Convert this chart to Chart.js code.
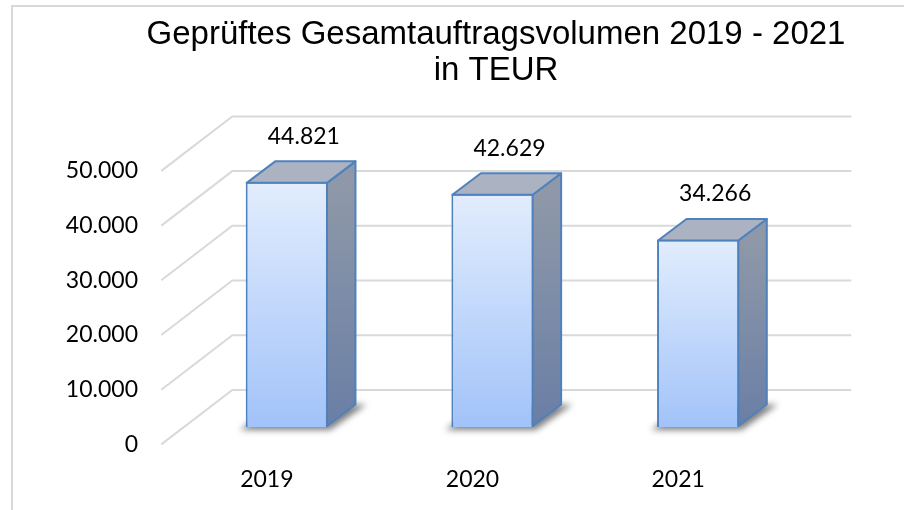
<!DOCTYPE html>
<html>
<head>
<meta charset="utf-8">
<script src="https://cdn.jsdelivr.net/npm/chart.js@4.4.1/dist/chart.umd.min.js"></script>
<style>
  body { margin: 0; background: #fff; }
  #wrap { position: relative; width: 904px; height: 510px; overflow: hidden; }
  #frame { position: absolute; left: 11px; top: 5px; width: 1000px; height: 600px;
           border-top: 2px solid #d9d9d9; border-left: 2px solid #d9d9d9; }
  canvas { position: absolute; left: 0; top: 0; }
</style>
</head>
<body>
<div id="wrap">
  <div id="frame"></div>
  <!-- breiter als das Fenster, damit der Titel (wie im Original) rechts der Mitte sitzt -->
  <canvas id="myChart" width="992" height="510"></canvas>
</div>
<script>
const jahre = ['2019', '2020', '2021'];
const volumen = [44821, 42629, 34266];
const yTicks = [0, 10000, 20000, 30000, 40000, 50000];
const titel = ['Geprüftes Gesamtauftragsvolumen 2019 - 2021', 'in TEUR'];

// 3D-Tiefe, als Versatz zur Vorderseite der Balken
const tiefe = { frontX: -22.7, frontY: 17.4, backX: 48.3, backY: -37.1, barX: 28.5, barY: -21.5 };
const kante = '#4f81bd';
const schrift = { family: "Lato, 'Open Sans', sans-serif", size: 23 };

function formatDE(v) {
  return String(v).replace(/\B(?=(\d{3})+(?!\d))/g, '.');
}

function frontVerlauf(c) {
  const chart = c.chart;
  const y = chart.scales.y;
  if (!chart.chartArea || !y || c.raw === undefined) return '#c4d9fa';
  const oben = y.getPixelForValue(c.raw);
  const unten = y.getPixelForValue(0);
  const g = chart.ctx.createLinearGradient(0, oben, 0, unten);
  g.addColorStop(0, '#e2edfd');
  g.addColorStop(1, '#a2c3f9');
  return g;
}

const box3d = {
  id: 'box3d',
  beforeDatasetsDraw(chart) {
    const { ctx, chartArea, scales: { y } } = chart;
    ctx.save();
    // Gitterlinien: Boden-Diagonale + Rückwand
    ctx.strokeStyle = '#d9d9d9';
    ctx.lineWidth = 2;
    y.ticks.forEach(t => {
      const py = y.getPixelForValue(t.value);
      ctx.beginPath();
      ctx.moveTo(chartArea.left + tiefe.frontX, py + tiefe.frontY);
      ctx.lineTo(chartArea.left + tiefe.backX, py + tiefe.backY);
      ctx.lineTo(chartArea.right + tiefe.backX + 2, py + tiefe.backY);
      ctx.stroke();
    });
    // Schatten unter den Balken
    chart.getDatasetMeta(0).data.forEach(bar => {
      const l = bar.x - bar.width / 2, r = bar.x + bar.width / 2, b = bar.base;
      ctx.save();
      ctx.filter = 'blur(3px)';
      ctx.fillStyle = 'rgba(0,0,0,0.5)';
      ctx.beginPath();
      ctx.moveTo(l - 6, b + 3);
      ctx.lineTo(r + 2, b + 3);
      ctx.lineTo(r + tiefe.barX + 10, b + tiefe.barY - 1);
      ctx.lineTo(l + tiefe.barX, b + tiefe.barY);
      ctx.closePath();
      ctx.fill();
      ctx.restore();
    });
    ctx.restore();
  },
  afterDatasetsDraw(chart) {
    const { ctx } = chart;
    const dx = tiefe.barX, dy = tiefe.barY;
    ctx.save();
    ctx.strokeStyle = kante;
    ctx.lineWidth = 2;
    ctx.lineJoin = 'round';
    chart.getDatasetMeta(0).data.forEach((bar, i) => {
      const l = bar.x - bar.width / 2 + 1, r = bar.x + bar.width / 2 - 1;
      const t = bar.y + 1, b = bar.base - 1;
      // Seite
      const gs = ctx.createLinearGradient(0, t, 0, b);
      gs.addColorStop(0, '#8e98a8');
      gs.addColorStop(1, '#6a7fa6');
      ctx.fillStyle = gs;
      ctx.beginPath();
      ctx.moveTo(r, t);
      ctx.lineTo(r + dx, t + dy);
      ctx.lineTo(r + dx, b + dy);
      ctx.lineTo(r, b);
      ctx.closePath();
      ctx.fill();
      ctx.stroke();
      // Deckel
      ctx.fillStyle = '#abb3c2';
      ctx.beginPath();
      ctx.moveTo(l, t);
      ctx.lineTo(l + dx, t + dy);
      ctx.lineTo(r + dx, t + dy);
      ctx.lineTo(r, t);
      ctx.closePath();
      ctx.fill();
      ctx.stroke();
      // Wert
      ctx.fillStyle = '#000';
      ctx.font = schrift.size + 'px ' + schrift.family;
      ctx.textAlign = 'center';
      ctx.textBaseline = 'middle';
      ctx.fillText(formatDE(volumen[i]), bar.x + 17, bar.y + dy - 24);
    });
    ctx.restore();
  }
};

new Chart(document.getElementById('myChart'), {
  type: 'bar',
  data: {
    labels: jahre,
    datasets: [{
      data: volumen,
      backgroundColor: frontVerlauf,
      borderColor: kante,
      borderWidth: 2,
      barPercentage: 0.4,
      categoryPercentage: 1.0
    }]
  },
  options: {
    responsive: false,
    animation: false,
    events: [],
    layout: { padding: 0 },
    plugins: {
      legend: { display: false },
      tooltip: { enabled: false },
      title: {
        display: true,
        text: titel,
        color: '#000',
        font: { family: "'Liberation Sans', Arial, sans-serif", size: 33, weight: 'normal', lineHeight: '36px' },
        padding: { top: 17, bottom: 64.5 }
      }
    },
    scales: {
      x: {
        grid: { display: false, drawTicks: false },
        border: { display: false },
        ticks: { font: schrift, color: '#000', padding: 39, labelOffset: -20 },
        afterFit(s) { s.height = 83; }
      },
      y: {
        min: 0,
        max: 50000,
        grid: { display: false, drawTicks: false },
        border: { display: false },
        ticks: { font: schrift, color: '#000', padding: 46, labelOffset: 17.4, callback: v => formatDE(v) },
        afterBuildTicks(s) { s.ticks = yTicks.map(v => ({ value: v })); },
        afterFit(s) { s.width = 184; }
      },
      // leerer Platz rechts (Rückwand läuft hier noch weiter)
      rechts: {
        type: 'linear',
        position: 'right',
        grid: { display: false, drawTicks: false },
        border: { display: false },
        ticks: { display: false },
        afterFit(s) { s.width = 191; }
      }
    }
  },
  plugins: [box3d]
});
</script>
</body>
</html>
